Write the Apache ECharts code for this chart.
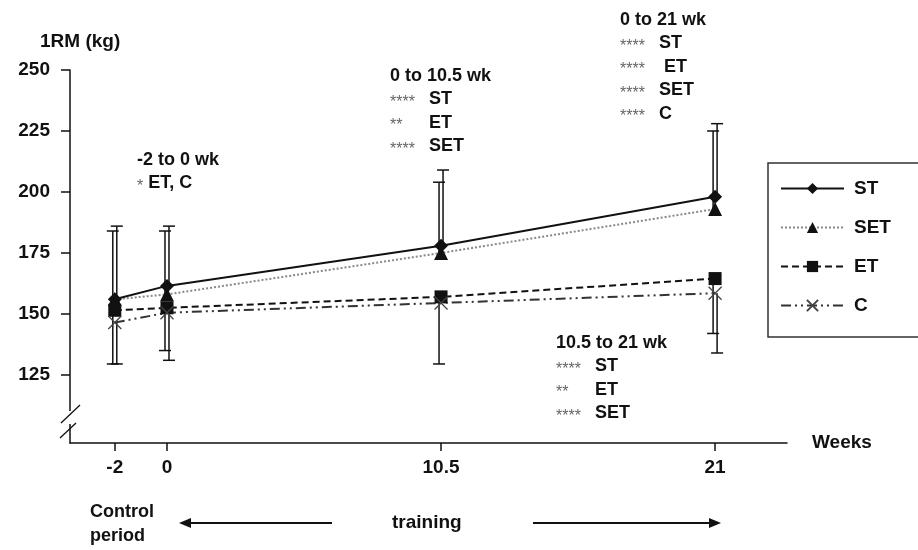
<!DOCTYPE html>
<html>
<head>
<meta charset="utf-8">
<script src="https://cdn.jsdelivr.net/npm/echarts@6/dist/echarts.min.js"></script>
<style>
  html, body { margin: 0; padding: 0; background: #fff; }
  #main { width: 918px; height: 550px; }
</style>
</head>
<body>
<div id="main"></div>
<script>
// weeks of measurement
var weeks = [-2, 0, 10.5, 21];
var weekTicks = [-2, 0, 10.5, 21];
var kgTicks = [125, 150, 175, 200, 225, 250];

// 1RM means (kg)
var stMean = [156, 161.5, 178, 198];
var setMean = [156, 158, 175, 193];
var etMean = [151.5, 152.5, 157, 164.5];
var cMean = [146.5, 150.5, 154.5, 158.5];

// whisker ends (upper for ST / SET, lower for ET / C)
var stHigh = [186, 186, 209, 228];
var setHigh = [184, 184, 204, 225];
var etLow = [129.5, 135, 129.5, 142];
var cLow = [129.5, 131, null, 134];

var font = 'Liberation Sans, Arial, sans-serif';

function whiskers(means, ends) {
    var out = [];
    for (var i = 0; i < weeks.length; i++) {
        if (ends[i] != null) {
            out.push([weeks[i], means[i], ends[i]]);
        }
    }
    return out;
}

function errRender(shift) {
    return function (params, api) {
        var from = api.coord([api.value(0), api.value(1)]);
        var to = api.coord([api.value(0), api.value(2)]);
        var x = from[0] + shift;
        return {
            type: 'group',
            children: [
                {
                    type: 'line',
                    shape: { x1: x, y1: from[1], x2: x, y2: to[1] },
                    style: { stroke: '#111', lineWidth: 1.5 }
                },
                {
                    type: 'line',
                    shape: { x1: x - 6, y1: to[1], x2: x + 6, y2: to[1] },
                    style: { stroke: '#111', lineWidth: 1.5 }
                }
            ]
        };
    };
}

function pairs(means) {
    return weeks.map(function (w, i) { return [w, means[i]]; });
}

function block(x, y, lines) {
    return {
        type: 'text',
        left: x,
        top: y,
        style: {
            text: lines.join('\n'),
            font: 'bold 18px ' + font,
            fill: '#111',
            lineHeight: 23.5,
            rich: {
                s: { width: 39, fontSize: 16, fontWeight: 'normal', fill: '#666', padding: [6, 0, 0, 0], fontFamily: font },
                s1: { fontSize: 16, fontWeight: 'normal', fill: '#666', padding: [6, 0, 0, 0], fontFamily: font }
            }
        }
    };
}

var chart = echarts.init(document.getElementById('main'));

var option = {
    animation: false,
    grid: { left: 70, right: 131, top: 70, bottom: 107 },
    xAxis: {
        type: 'value',
        min: -3.716,
        max: 23.755,
        name: 'Weeks',
        nameLocation: 'end',
        nameGap: 25,
        nameTextStyle: { fontFamily: font, fontSize: 19, fontWeight: 'bold', color: '#111', verticalAlign: 'middle', padding: [0, 0, 4, 0] },
        axisLine: { onZero: false, lineStyle: { color: '#111', width: 1.5 } },
        axisTick: { customValues: weekTicks, length: 8, lineStyle: { color: '#111', width: 1.5 } },
        axisLabel: { customValues: weekTicks, margin: 15, fontFamily: font, fontSize: 19, fontWeight: 'bold', color: '#111' },
        splitLine: { show: false }
    },
    yAxis: {
        type: 'value',
        min: 97.1,
        max: 250,
        axisLine: { show: true, onZero: false, lineStyle: { color: '#111', width: 1.5 } },
        axisTick: { show: true, customValues: kgTicks, length: 9, lineStyle: { color: '#111', width: 1.5 } },
        axisLabel: { customValues: kgTicks, margin: 20, fontFamily: font, fontSize: 19, fontWeight: 'bold', color: '#111' },
        splitLine: { show: false }
    },
    legend: {
        data: ['ST', 'SET', 'ET', 'C'],
        orient: 'vertical',
        left: 768,
        top: 163,
        padding: [16, 28, 22, 12],
        itemGap: 20,
        itemWidth: 63,
        itemHeight: 14,
        borderColor: '#333',
        borderWidth: 1.5,
        textStyle: { fontFamily: font, fontSize: 19, fontWeight: 'bold', color: '#111', padding: [0, 0, 0, 5] }
    },
    series: [
        { type: 'custom', renderItem: errRender(2), data: whiskers(stMean, stHigh), z: 1 },
        { type: 'custom', renderItem: errRender(-2), data: whiskers(setMean, setHigh), z: 1 },
        { type: 'custom', renderItem: errRender(-2), data: whiskers(etMean, etLow), z: 1 },
        { type: 'custom', renderItem: errRender(2), data: whiskers(cMean, cLow), z: 1 },
        {
            name: 'ST', type: 'line', data: pairs(stMean), z: 5,
            symbol: 'diamond', symbolSize: 14,
            lineStyle: { color: '#111', width: 2 },
            itemStyle: { color: '#111' }
        },
        {
            name: 'SET', type: 'line', data: pairs(setMean), z: 4,
            symbol: 'triangle', symbolSize: 14,
            lineStyle: { color: '#888', width: 2, type: 'dotted' },
            itemStyle: { color: '#111' }
        },
        {
            name: 'ET', type: 'line', data: pairs(etMean), z: 4,
            symbol: 'rect', symbolSize: 13,
            lineStyle: { color: '#111', width: 2, type: [7, 4] },
            itemStyle: { color: '#111' }
        },
        {
            name: 'C', type: 'line', data: pairs(cMean), z: 4,
            symbol: 'path://M0,0L10,10M10,0L0,10', symbolSize: 13,
            lineStyle: { color: '#333', width: 2, type: [10, 4, 2, 4, 2, 4] },
            itemStyle: { color: 'none', borderColor: '#444', borderWidth: 1.3 }
        }
    ],
    graphic: [
        { type: 'text', left: 40, top: 32, style: { text: '1RM (kg)', font: 'bold 19px ' + font, fill: '#111' } },
        // axis break
        { type: 'rect', shape: { x: 66, y: 411, width: 8, height: 13 }, style: { fill: '#fff' }, z: 100 },
        { type: 'line', shape: { x1: 61, y1: 423, x2: 80, y2: 405 }, style: { stroke: '#111', lineWidth: 1.3 }, z: 101 },
        { type: 'line', shape: { x1: 60, y1: 438, x2: 76, y2: 423 }, style: { stroke: '#111', lineWidth: 1.3 }, z: 101 },
        // annotations
        block(137, 148, ['-2 to 0 wk', '{s1|*} ET, C']),
        block(390, 64, ['0 to 10.5 wk', '{s|****}ST', '{s|**}ET', '{s|****}SET']),
        block(620, 8, ['0 to 21 wk', '{s|****}ST', '{s|****} ET', '{s|****}SET', '{s|****}C']),
        block(556, 331, ['10.5 to 21 wk', '{s|****}ST', '{s|**}ET', '{s|****}SET']),
        // bottom captions
        { type: 'text', left: 90, top: 500, style: { text: 'Control\nperiod', font: 'bold 18px ' + font, fill: '#111', lineHeight: 24 } },
        { type: 'text', left: 392, top: 513, style: { text: 'training', font: 'bold 19px ' + font, fill: '#111' } },
        { type: 'line', shape: { x1: 190, y1: 523, x2: 332, y2: 523 }, style: { stroke: '#111', lineWidth: 2 } },
        { type: 'polygon', shape: { points: [[179, 523], [191, 518], [191, 528]] }, style: { fill: '#111' } },
        { type: 'line', shape: { x1: 533, y1: 523, x2: 710, y2: 523 }, style: { stroke: '#111', lineWidth: 2 } },
        { type: 'polygon', shape: { points: [[721, 523], [709, 518], [709, 528]] }, style: { fill: '#111' } }
    ]
};

chart.setOption(option);
</script>
</body>
</html>
